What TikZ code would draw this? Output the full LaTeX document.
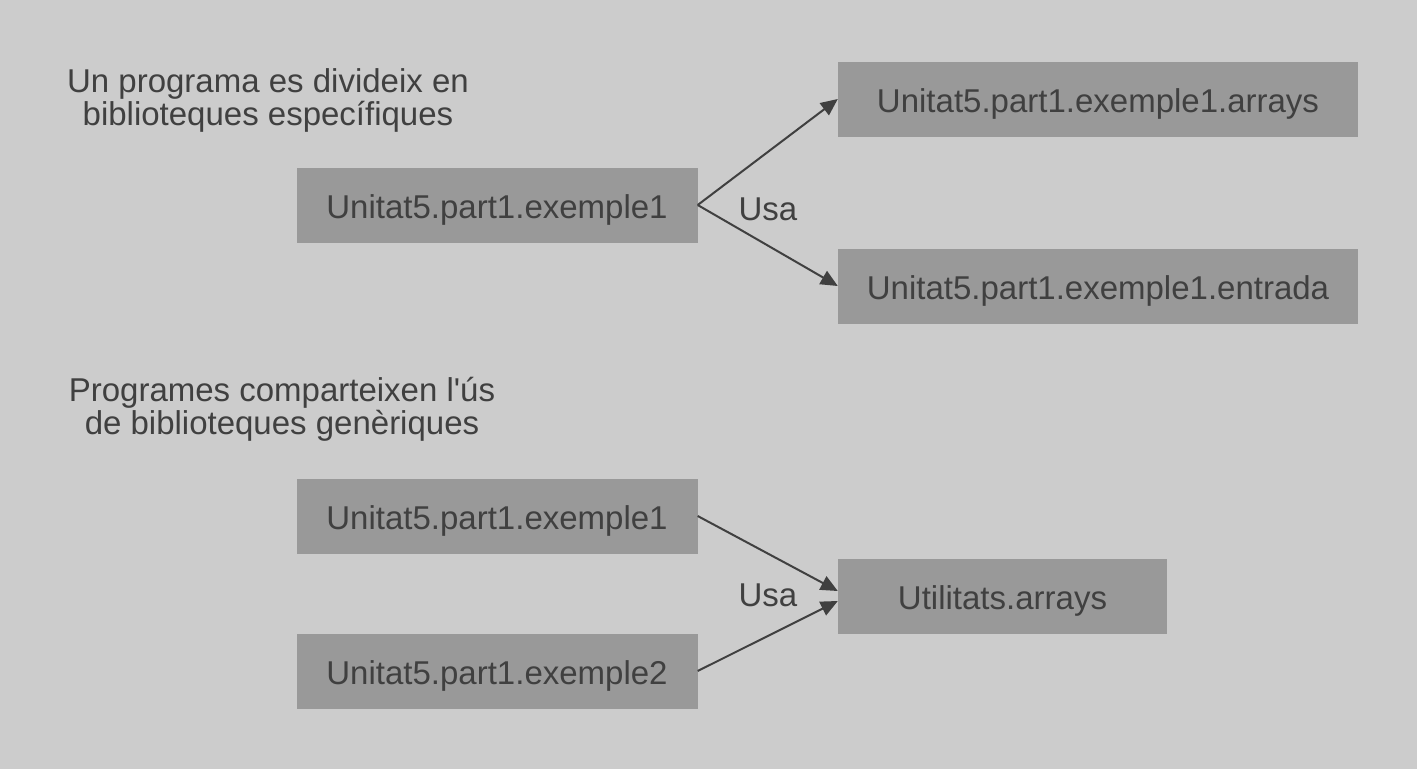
\documentclass[tikz,border=0pt]{standalone}
\usepackage{fontspec}
\setmainfont{Liberation Sans}
\usetikzlibrary{arrows.meta}
\definecolor{bg}{HTML}{CCCCCC}
\definecolor{boxfill}{HTML}{999999}
\definecolor{ink}{HTML}{404040}
\tikzset{
  libbox/.style={fill=boxfill, draw=none, inner sep=0pt, text=ink, font=\fontsize{33}{33}\selectfont, text height=27.6pt, text depth=0pt},
  caption/.style={text=ink, font=\fontsize{33}{33}\selectfont, align=center, inner sep=0pt},
  uses/.style={draw=ink, line width=2pt, -{Triangle[length=17pt,width=15pt]}},
  useslabel/.style={text=ink, font=\fontsize{33}{33}\selectfont, inner sep=0pt}
}
\begin{document}
\begin{tikzpicture}[x=1pt,y=-1pt]
\fill[bg] (0,0) rectangle (1417,769);
\useasboundingbox (0,0) rectangle (1417,769);

\node[caption] (t1) at (268,100) {Un programa es divideix en\\biblioteques específiques};
\node[caption] (t2) at (282,409) {Programes comparteixen l\textquotesingle ús\\de biblioteques genèriques};

\node[libbox, minimum width=401pt, minimum height=75pt] (a) at (497,205) {Unitat5.part1.exemple1};
\node[libbox, minimum width=520pt, minimum height=75pt] (b) at (1098,99) {Unitat5.part1.exemple1.arrays};
\node[libbox, minimum width=520pt, minimum height=75pt] (c) at (1098,286) {Unitat5.part1.exemple1.entrada};

\node[libbox, minimum width=401pt, minimum height=75pt] (d) at (497,516) {Unitat5.part1.exemple1};
\node[libbox, minimum width=401pt, minimum height=75pt] (e) at (497,671) {Unitat5.part1.exemple2};
\node[libbox, minimum width=329pt, minimum height=75pt] (f) at (1002.5,596) {Utilitats.arrays};

\draw[uses] (a.east) -- (b.west);
\draw[uses] (a.east) -- (c.west);
\node[useslabel] (u1) at (768,209) {Usa};

\draw[uses] (d.east) -- ([yshift=5pt]f.west);
\draw[uses] (e.east) -- ([yshift=-5pt]f.west);
\node[useslabel] (u2) at (768,595) {Usa};
\end{tikzpicture}
\end{document}
